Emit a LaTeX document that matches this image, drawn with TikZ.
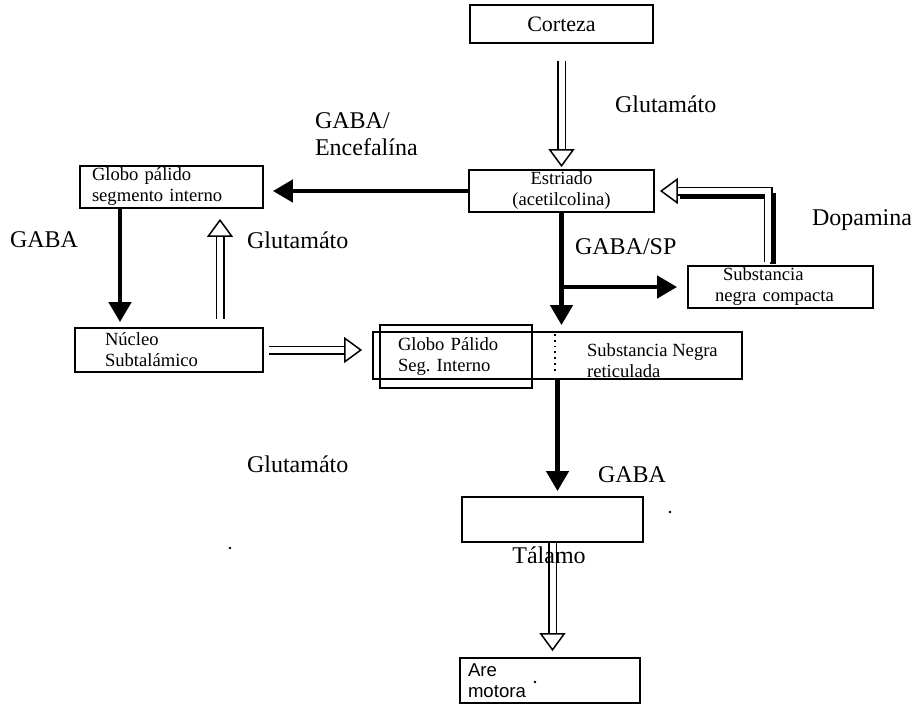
\documentclass[tikz,border=0pt]{standalone}
\usepackage{fontspec}
\setmainfont{Liberation Serif}
\newfontfamily\arialfont{Liberation Sans}
\usetikzlibrary{arrows.meta,calc}
\tikzset{
	caja/.style={draw,line width=0.9pt,rectangle,inner ysep=0pt,align=left,font=\fontsize{9.3}{10.5}\selectfont},
	rotulo/.style={anchor=west,align=left,font=\fontsize{12}{13.5}\selectfont},
	negra/.style={line width=2.2pt,-{Triangle[length=10pt,width=11pt]}},
	hueca/.style={double,double distance=3pt,line width=0.75pt,line join=miter,-{Triangle[open,length=9pt,width=13pt,line width=0.75pt]}}
}
\begin{document}
\begin{tikzpicture}[x=0.5pt,y=-0.5pt]
		\useasboundingbox (0,0) rectangle (911,707);
		% cajas
		\node[caja,minimum width=91.5pt,minimum height=19pt,align=center,font=\fontsize{11}{13}\selectfont] (cor) at (561.5,24) {Corteza};
		\node[caja,minimum width=92.5pt,minimum height=21pt,align=center] (est) at (561.5,191) {Estriado\\(acetilcolina)};
		\node[caja,inner xsep=6pt,text width=79.5pt,minimum height=21pt] (gpe) at (171.5,187) {Globo pálido\\segmento interno};
		\node[caja,inner xsep=13.5pt,text width=65.5pt,minimum height=21pt] (snc) at (780.5,287) {\hspace*{4pt}Substancia\\negra compacta};
		\node[caja,inner xsep=15pt,text width=64pt,minimum height=22pt] (nst) at (169,350) {Núcleo\\Subtalámico};
		\node[caja,minimum width=184.5pt,minimum height=23.5pt] (snr) at (557.5,355.5) {};
		\node[caja,inner xsep=9pt,text width=58pt,minimum height=31.5pt] (gpi) at (456,356.5) {Globo Pálido\\Seg.\ Interno};
		\node[anchor=west,align=left,font=\fontsize{9.3}{10.5}\selectfont] (snrtexto) at (580,361) {Substancia Negra\\reticulada};
		\draw[dotted,line width=0.9pt] (555,334) -- (555,372);
		\node[caja,minimum width=90.5pt,minimum height=22.5pt] (tal) at (552.5,519.5) {};
		\node[caja,inner xsep=4pt,text width=82pt,minimum height=22.5pt,font=\arialfont\fontsize{9.3}{10.5}\selectfont] (are) at (550,680.5) {Are\\motora};
		% rotulos
		\node[rotulo] (glu1) at (608,104) {Glutamáto};
		\node[rotulo] (encef) at (308,134) {GABA/\\Encefalína};
		\node[rotulo] (gabasp) at (568,247) {GABA/SP};
		\node[rotulo] (dopa) at (805,220) {Dopamina};
		\node[rotulo] (gaba1) at (3,240) {GABA};
		\node[rotulo] (glu2) at (240,240) {Glutamáto};
		\node[rotulo] (glu3) at (240,464) {Glutamáto};
		\node[rotulo] (gaba2) at (591,475) {GABA};
		% coordenadas
		\coordinate (xl) at (120,0);
		\coordinate (xr) at (220,0);
		\coordinate (rama) at (561.5,287);
		\coordinate (snctop) at (768,262);
		% flechas
		\draw[hueca,shorten <=8.5pt,shorten >=1pt] (cor) -- (est);
		\draw[negra,shorten >=4.5pt] (est.west) -- (est.west -| gpe.east);
		\draw[negra,shorten >=3pt] (est.south) -- (est.south |- snr.north);
		\draw[negra,shorten >=5pt] (rama) -- (rama -| snc.west);
		\draw[line width=3pt] ($(snctop)+(5,2)$) |- ($(est.east)+(25,5)$);
		\draw[hueca,shorten >=2.5pt] (snctop) |- (est.east);
		\draw[negra,shorten >=2.5pt] (gpe.south -| xl) -- (nst.north -| xl);
		\draw[hueca,shorten <=4pt,shorten >=5pt] (nst.north -| xr) -- (gpe.south -| xr);
		\draw[hueca,shorten <=2.5pt,shorten >=8.5pt] (nst.east) -- (nst.east -| gpi.west);
		\draw[negra,shorten >=2.5pt] (snr.south) -- (snr.south |- tal.north);
		\draw[hueca,shorten >=3pt] (tal.south) -- (tal.south |- are.north);
		\node[font=\fontsize{12}{13.5}\selectfont] (talamo) at (549,555) {Tálamo};
		% motas
		\fill (670,512) circle (0.7pt);
		\fill (230,548) circle (0.7pt);
		\fill (535,682) circle (0.7pt);
\end{tikzpicture}
\end{document}
